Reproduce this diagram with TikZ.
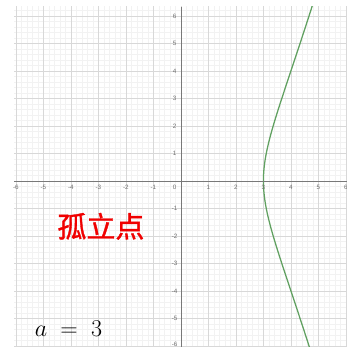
\documentclass[tikz,border=0pt]{standalone}
\usepackage{amsmath}
\usepackage{fontspec}
\usepackage{tikz}
\usepackage{xcolor}
\newfontfamily\cjkfont[FakeBold=1.2]{Noto Sans CJK SC}
\newfontfamily\tickfont{Liberation Sans}
\definecolor{curvegreen}{RGB}{96,160,96}
\definecolor{majorgray}{RGB}{216,216,216}
\definecolor{minorgray}{RGB}{242,242,242}
\definecolor{axisgray}{RGB}{120,120,120}
\definecolor{ticktext}{RGB}{110,110,110}
\definecolor{labelred}{RGB}{240,0,0}
\tikzset{
  ticklabel/.style={text=ticktext, font=\tickfont\fontsize{6.5}{7}\selectfont, inner sep=0pt},
}
\begin{document}
\begin{tikzpicture}
			\def \xl{-6.07};
			\def \xr{6.04};
			\def \yb{-6.04};
			\def \yt{6.33};
			\def \d{0.23};
			\useasboundingbox (-6.58, -6.04) rectangle (6.04, 6.58);
			\fill[white] (-6.58, -6.04) rectangle (6.04, 6.58);
			% grid
			\begin{scope}
				\clip (\xl, \yb) rectangle (\xr, \yt);
				\draw[minorgray, line width=0.3pt, step=0.2] (-7, -7) grid (7, 7);
				\draw[majorgray, line width=0.5pt, step=1] (-7, -7) grid (7, 7);
				% curve y^2 = x^2 (x - a)
				\draw[curvegreen, line width=1.3pt, smooth, samples=120, domain=-1.42:1.42]
					plot ({3+\x*\x}, {(3+\x*\x)*\x});
			\end{scope}
			% axes
			\draw[axisgray, line width=0.6pt] (\xl, 0) -- (\xr, 0);
			\draw[axisgray, line width=0.6pt] (0, \yb) -- (0, \yt);
			% tick labels
			\foreach \i in {-6,...,-1,1,2,...,6} {
				\node[ticklabel] (xt\i) at (\i, -\d) {\i};
			}
			\foreach \i in {-5,...,-1,1,2,...,6} {
				\node[ticklabel] (yt\i) at (-\d, \i) {\i};
			}
			\node[ticklabel, anchor=south] (yt-6) at (-\d, \yb) {-6};
			\node[ticklabel] (o) at (-\d, -\d) {0};
			% labels
			\node[text=labelred, font=\cjkfont\fontsize{30}{32}\selectfont, inner sep=0pt] (isolated) at (-2.91, -1.65) {孤立点};
			\node[font=\fontsize{29}{31}\selectfont, inner sep=0pt] (aval) at (-4.09, -5.36) {$a \mathrel{\;=\;} 3$};
		\end{tikzpicture}
\end{document}
